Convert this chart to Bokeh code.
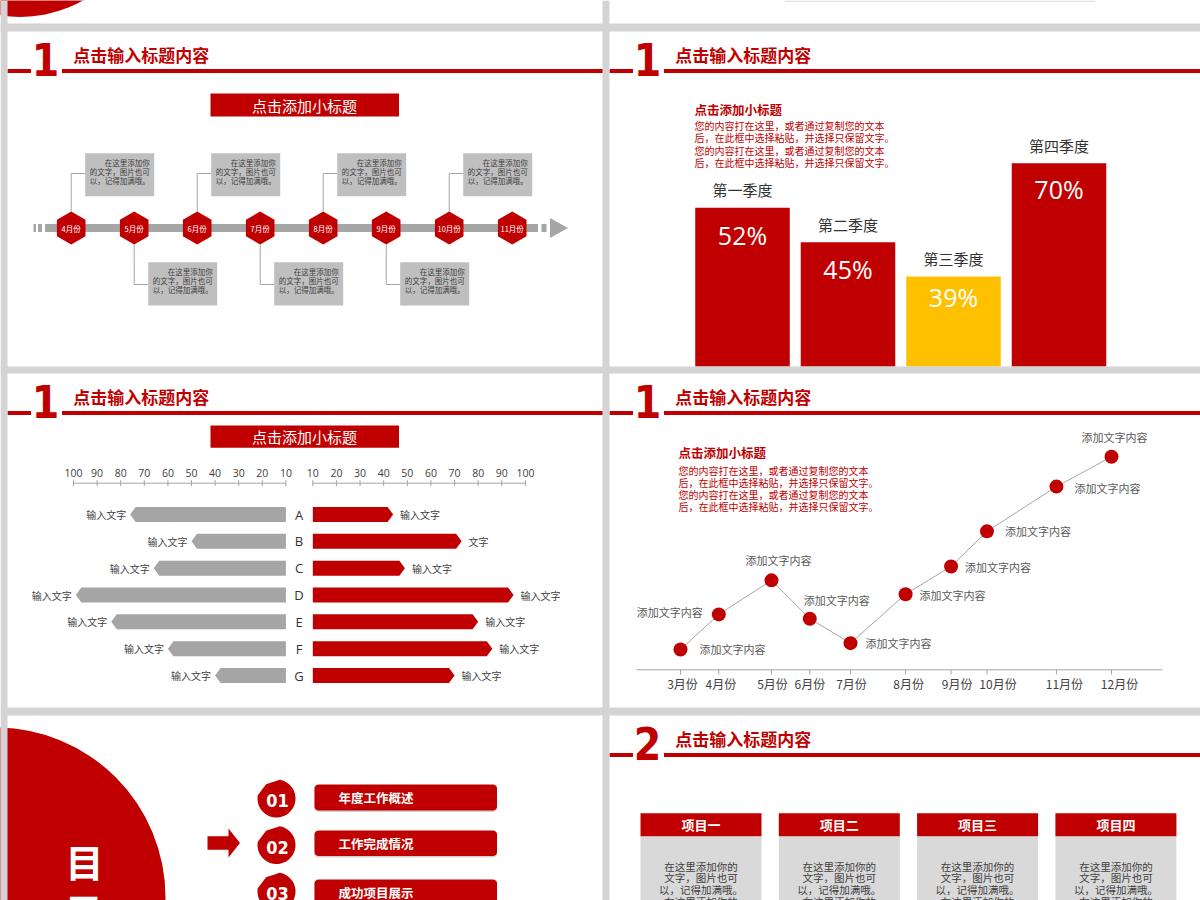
import numpy as np
from bokeh.plotting import figure
from bokeh.models import Range1d
from bokeh.core.properties import value
from bokeh.embed import file_html
from bokeh.resources import INLINE

# ---------------- data ----------------
header_title = "点击输入标题内容"
sub_title = "点击添加小标题"
para_lines = ["您的内容打在这里，或者通过复制您的文本", "后，在此框中选择粘贴，并选择只保留文字。",
              "您的内容打在这里，或者通过复制您的文本", "后，在此框中选择粘贴，并选择只保留文字。"]

timeline_months = ["4月份", "5月份", "6月份", "7月份", "8月份", "9月份", "10月份", "11月份"]
callout_lines = ["在这里添加你", "的文字，图片也可", "以，记得加满哦。"]

quarters = ["第一季度", "第二季度", "第三季度", "第四季度"]
quarter_pct = ["52%", "45%", "39%", "70%"]
quarter_bar_height = [54.7, 42.8, 31.0, 70.0]   # visual bar heights as drawn

bf_rows = ["A", "B", "C", "D", "E", "F", "G"]
bf_left = [76, 50, 66, 99, 84, 60, 40]
bf_right = [44, 73, 49, 95, 80, 86, 70]
bf_left_labels = ["输入文字"] * 7
bf_right_labels = ["输入文字", "文字", "输入文字", "输入文字", "输入文字", "输入文字", "输入文字"]
bf_ticks = [10, 20, 30, 40, 50, 60, 70, 80, 90, 100]

line_months = ["3月份", "4月份", "5月份", "6月份", "7月份", "8月份", "9月份", "10月份", "11月份", "12月份"]
line_month_x = [3.0, 3.8, 4.9, 5.7, 6.55, 7.7, 8.65, 9.4, 10.85, 12.0]
line_values = [9.5, 26, 42, 24, 12.5, 35.5, 48.5, 65, 86, 100]
line_label = "添加文字内容"

menu_nums = ["01", "02", "03"]
menu_items = ["年度工作概述", "工作完成情况", "成功项目展示"]

projects = ["项目一", "项目二", "项目三", "项目四"]
project_lines = ["在这里添加你的", "文字，图片也可", "以，记得加满哦。", "在这里添加你的"]

# ---------------- style ----------------
RED = "#c00000"
YELLOW = "#ffc000"
GAP = "#d4d4d4"
DARK = "#404040"
MID = "#595959"
LGRAY = "#a6a6a6"
CJK = value("Noto Sans CJK SC")
NUM = value("DejaVu Sans Condensed, Roboto, sans-serif")
LAT = value("Open Sans")
W, H = 1200, 900

p = figure(width=W, height=H, x_range=Range1d(0, W), y_range=Range1d(H, 0),
           output_backend="svg", toolbar_location=None, min_border=0,
           x_axis_type=None, y_axis_type=None,
           background_fill_color="white", border_fill_color=GAP,
           outline_line_color=None)
p.grid.visible = False


def make_range(v0, p0, v1, p1, lo, hi):
    span = (v1 - v0) * (hi - lo) / (p1 - p0)
    s = v0 - (p0 - lo) * span / (hi - lo)
    return Range1d(start=s, end=s + span)


def xr(v0, p0, v1, p1):
    return make_range(v0, p0, v1, p1, 0, W)


def yr(v0, p0, v1, p1):
    return make_range(v0, p0, v1, p1, H, 0)


def txt(x, y, t, size, color, font=CJK, bold=False, align="left", baseline="middle", **kw):
    p.text(x=list(x), y=list(y), text=list(t), text_font=font, text_font_size=f"{size}px",
           text_color=color, text_font_style="bold" if bold else "normal",
           text_align=align, text_baseline=baseline, **kw)


def box(l, r, t, b, color, **kw):
    p.quad(left=[l], right=[r], top=[t], bottom=[b], fill_color=color, line_color=None, **kw)


LX, RX = 7, 609
R1, R2, R3 = 31, 373, 715


def header(ox, oy, num):
    p.quad(left=[ox, ox + 54.5], right=[ox + 23.5, ox + 600], top=[oy + 37.5] * 2,
           bottom=[oy + 41.5] * 2, fill_color=RED, line_color=None)
    txt([ox + 38], [oy + 28], [num], 44, RED, font=NUM, bold=True, align="center")
    txt([ox + 65.7], [oy + 23], [header_title], 17, RED, bold=True)


# ---------- top partial row ----------
p.circle(x=[20], y=[-110], radius=126.5, fill_color=RED, line_color=None)
box(784, 1095, 0, 1.5, "#e3e3e3")

# ---------- row 2 left : timeline ----------
header(LX, R1, "1")
box(210, 398.5, 93, 116, RED)
txt([304], [104.5], [sub_title], 15, "white", align="center")

tl_y = 227.5
box(44.5, 537.5, tl_y - 4, tl_y + 4, LGRAY)
p.quad(left=[33, 37.5, 541], right=[35.5, 41.5, 546], top=[tl_y - 4] * 3, bottom=[tl_y + 4] * 3,
       fill_color=LGRAY, line_color=None)
p.patch([549.5, 567.5, 549.5], [tl_y - 10, tl_y, tl_y + 10], fill_color=LGRAY, line_color=None)

hx = [70.7 + 63 * i for i in range(len(timeline_months))]
for i, cx in enumerate(hx[:-1]):
    if i % 2 == 0:
        p.line([cx, cx, cx + 14], [211, 173, 173], line_color=LGRAY, line_width=1)
        box(cx + 14, cx + 83, 152.7, 195.7, "#bfbfbf")
        ys = [161.7, 170.7, 179.7]
    else:
        p.line([cx, cx, cx + 14], [244, 284, 284], line_color=LGRAY, line_width=1)
        box(cx + 14, cx + 83, 261.7, 305, "#bfbfbf")
        ys = [270.7, 279.7, 288.7]
    txt([cx + 33.5, cx + 18.5, cx + 18.5], ys, callout_lines, 7.5, DARK)

p.scatter(x=hx, y=[tl_y] * len(hx), marker="hex", size=33, angle=np.pi / 6,
          fill_color=RED, line_color=None)
txt(hx, [tl_y] * len(hx), timeline_months, 7.5, "white", align="center")

# ---------- row 2 right : quarter bars ----------
header(RX, R1, "1")
txt([694], [109], [sub_title], 12.5, RED, bold=True)
txt([694] * 4, [125 + 12.3 * i for i in range(4)], para_lines, 10, RED)

p.extra_x_ranges["qx"] = xr(0, 742, 3, 1058.5)
p.extra_y_ranges["qy"] = yr(0, 366, 70, 162.7)
qi = list(range(len(quarters)))
p.vbar(x=qi, top=quarter_bar_height, bottom=0, width=0.896, x_range_name="qx", y_range_name="qy",
       fill_color=[RED, RED, YELLOW, RED], line_color=None)
txt(qi, quarter_bar_height, quarters, 15, "#333333", align="center",
    x_range_name="qx", y_range_name="qy", y_offset=-18)
txt(qi, quarter_bar_height, quarter_pct, 25, "white", font=LAT, align="center",
    x_range_name="qx", y_range_name="qy", y_offset=[27, 27, 21, 26])

# ---------- row 3 left : butterfly ----------
header(LX, R2, "1")
box(210, 398.5, 425, 447.3, RED)
txt([304], [436], [sub_title], 15, "white", align="center")

p.extra_x_ranges["bl"] = xr(10, 285.4, 100, 73)
p.extra_x_ranges["br"] = xr(10, 312.3, 100, 524.9)
p.extra_y_ranges["bfy"] = yr(0, 514, 6, 675)

ax_y = 482.7
for rn in ("bl", "br"):
    p.segment(x0=[min(bf_ticks)], x1=[max(bf_ticks)], y0=[ax_y], y1=[ax_y], x_range_name=rn,
              line_color=LGRAY, line_width=1)
    p.segment(x0=bf_ticks, x1=bf_ticks, y0=[ax_y - 3] * len(bf_ticks), y1=[ax_y + 3] * len(bf_ticks),
              x_range_name=rn, line_color=LGRAY, line_width=1)
    txt(bf_ticks, [472.3] * len(bf_ticks), [str(t) for t in bf_ticks], 10.5, DARK, font=LAT,
        align="center", x_range_name=rn)

px_per_unit = (285.4 - 73) / 90.0
tip = 5.5 / px_per_unit
half = 7.5 / ((675 - 514) / 6.0)
ri = list(range(len(bf_rows)))
p.patches(xs=[[10, v - tip, v, v - tip, 10] for v in bf_left],
          ys=[[i - half, i - half, i, i + half, i + half] for i in ri],
          x_range_name="bl", y_range_name="bfy", fill_color="#a5a5a5", line_color=None)
p.patches(xs=[[10, v - tip, v, v - tip, 10] for v in bf_right],
          ys=[[i - half, i - half, i, i + half, i + half] for i in ri],
          x_range_name="br", y_range_name="bfy", fill_color=RED, line_color=None)
txt(bf_left, ri, bf_left_labels, 10, DARK, align="right", x_range_name="bl",
    y_range_name="bfy", x_offset=-4)
txt(bf_right, ri, bf_right_labels, 10, DARK, align="left", x_range_name="br",
    y_range_name="bfy", x_offset=7)
txt([298.5] * len(bf_rows), ri, bf_rows, 13, "#333333", font=LAT, align="center",
    y_range_name="bfy")

# ---------- row 3 right : line chart ----------
header(RX, R2, "1")
txt([678], [452.3], [sub_title], 12.5, RED, bold=True)
txt([678] * 4, [470 + 12 * i for i in range(4)], para_lines, 10, RED)

p.extra_x_ranges["mx"] = xr(3, 680, 12, 1111)
p.extra_y_ranges["my"] = yr(0, 669.3, 100, 456.3)
lab_dx = [2, 2, 1, 0, 1, 3, 6, 11, 8, 8]
p.segment(x0=[636], x1=[1162], y0=[669.3], y1=[669.3], line_color=LGRAY, line_width=1)
p.segment(x0=line_month_x, x1=line_month_x, y0=[669.3] * 10, y1=[674] * 10,
          x_range_name="mx", line_color=LGRAY, line_width=1)
txt(line_month_x, [683] * 10, line_months, 12, DARK, align="center", x_range_name="mx",
    x_offset=lab_dx)
p.line(line_month_x, line_values, x_range_name="mx", y_range_name="my",
       line_color=LGRAY, line_width=1)
p.scatter(line_month_x, line_values, x_range_name="mx", y_range_name="my",
          size=14, fill_color=RED, line_color=None)

lbl_dx = [19, -16, 7, -6, 15, 14, 14, 18, 18, 3]
lbl_dy = [-1, -2, -20, -19, 0, 1, 1, 0, 1, -20]
lbl_al = ["left", "right", "center", "left", "left", "left", "left", "left", "left", "center"]
for al in ("left", "right", "center"):
    idx = [k for k in range(10) if lbl_al[k] == al]
    txt([line_month_x[k] for k in idx], [line_values[k] for k in idx], [line_label] * len(idx),
        11, MID, align=al, x_range_name="mx", y_range_name="my",
        x_offset=[lbl_dx[k] for k in idx], y_offset=[lbl_dy[k] for k in idx])

# ---------- row 4 left : contents ----------
p.circle(x=[-5], y=[897], radius=170, fill_color=RED, line_color=None)
txt([84], [859.5], ["目"], 38, "white", bold=True, align="center")
txt([84], [910], ["录"], 38, "white", bold=True, align="center")

p.patch([207, 228, 228, 239.5, 228, 228, 207], [835.7, 835.7, 828, 842.5, 857, 849.3, 849.3],
        fill_color=RED, line_color=None)


def teardrop(cx, cy, r):
    a = np.radians(np.linspace(-80, 190, 40))
    xs = list(cx + r * np.cos(a)) + [cx - r * 0.55]
    ys = list(cy + r * np.sin(a)) + [cy - r * 0.75]
    return xs, ys


def rrect(x0, y0, x1, y1, r, n=6):
    xs, ys = [], []
    for cx, cy, a0, a1 in [(x1 - r, y0 + r, -90, 0), (x1 - r, y1 - r, 0, 90),
                           (x0 + r, y1 - r, 90, 180), (x0 + r, y0 + r, 180, 270)]:
        for a in np.radians(np.linspace(a0, a1, n)):
            xs.append(cx + r * np.cos(a))
            ys.append(cy + r * np.sin(a))
    return xs, ys


menu_cy = [798, 844.5, 891]
btn_y = [(784, 810), (830, 855.5), (879, 905)]
for k in range(3):
    tx, ty = teardrop(276, menu_cy[k], 19)
    p.patch(tx, ty, fill_color=RED, line_color=None)
    bx, by = rrect(314, btn_y[k][0] + 1.5, 496.5, btn_y[k][1] + 1.5, 4)
    p.patch(bx, by, fill_color="#7f7f7f", fill_alpha=0.35, line_color=None)
    bx, by = rrect(314, btn_y[k][0], 496.5, btn_y[k][1], 4)
    p.patch(bx, by, fill_color=RED, line_color=None)
txt([277] * 3, [c + 2 for c in menu_cy], menu_nums, 18, "white", font=NUM, bold=True, align="center")
txt([338] * 3, [(a + b) / 2 for a, b in btn_y], menu_items, 12.5, "white", bold=True)

# ---------- row 4 right : projects ----------
header(RX, R3, "2")
card_l = [640 + 138.3 * k for k in range(4)]
for k, l in enumerate(card_l):
    box(l, l + 121, 812.7, 836, RED)
    box(l, l + 121, 836, 905, "#d9d9d9")
txt([l + 60.5 for l in card_l], [824.3] * 4, projects, 13, "white", bold=True, align="center")
for j, line in enumerate(project_lines):
    txt([l + 60.5 for l in card_l], [865.7 + 11.6 * j] * 4, [line] * 4, 10.5, DARK, align="center")

# ---------- gaps between slides ----------
p.quad(left=[0, 602, 0, 0, 0], right=[7, 609, W, W, W], top=[0, 0, 23, 366, 707],
       bottom=[H, H, 31, 373, 715], fill_color=GAP, line_color=None)

open("out.html", "w").write(file_html(p, INLINE))
